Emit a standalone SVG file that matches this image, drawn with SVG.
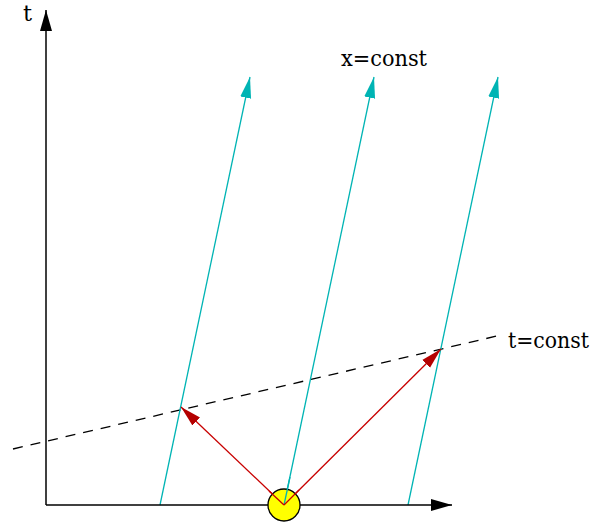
<svg xmlns="http://www.w3.org/2000/svg" width="601" height="523" viewBox="0 0 601 523">
<style>
.ax{stroke:#000;stroke-width:1.5;fill:none}
.cy{stroke:#00b4b4;stroke-width:1.3;fill:none}
.rd{stroke:#c80000;stroke-width:1.3;fill:none}
.dash{stroke:#000;stroke-width:1.3;fill:none;stroke-dasharray:10,8}
text{font-family:'DejaVu Serif',serif;font-size:23px;fill:#000}
</style>
<defs>
<marker id="ab" markerUnits="userSpaceOnUse" markerWidth="22" markerHeight="12" refX="21" refY="6" orient="auto"><path d="M0,0 L21,6 L0,12 Z" fill="#000"/></marker>
<marker id="ac" markerUnits="userSpaceOnUse" markerWidth="22" markerHeight="12" refX="21" refY="6" orient="auto"><path d="M0,0.5 L21,6 L0,11.5 Z" fill="#00b4b4"/></marker>
<marker id="ar" markerUnits="userSpaceOnUse" markerWidth="22" markerHeight="12" refX="21" refY="6" orient="auto"><path d="M0,0.5 L21,6 L0,11.5 Z" fill="#b40000"/></marker>
</defs>
<g id="connectors">
<line class="dash" x1="13" y1="449" x2="497" y2="336"/>
<line class="cy" x1="160" y1="505" x2="250" y2="77" marker-end="url(#ac)"/>
<line class="cy" x1="284" y1="505" x2="374" y2="77" marker-end="url(#ac)"/>
<line class="cy" x1="408" y1="505" x2="498" y2="77" marker-end="url(#ac)"/>
<line class="rd" x1="284" y1="505" x2="181" y2="407" marker-end="url(#ar)"/>
<line class="rd" x1="284" y1="505" x2="441" y2="349" marker-end="url(#ar)"/>
</g>
<g id="axes">
<line class="ax" x1="46" y1="505" x2="46" y2="10" marker-end="url(#ab)"/>
<line class="ax" x1="46" y1="505" x2="452" y2="505" marker-end="url(#ab)"/>
</g>
<g id="source">
<circle cx="284" cy="505" r="16" fill="#ffff00" stroke="#000" stroke-width="1.3"/>
<line class="cy" x1="284" y1="505" x2="290" y2="477"/>
<line class="rd" x1="284" y1="505" x2="269" y2="491"/>
<line class="rd" x1="284" y1="505" x2="299" y2="490"/>
</g>
<g id="labels">
<text x="23" y="21" textLength="9" lengthAdjust="spacingAndGlyphs">t</text>
<text x="341" y="66" textLength="86" lengthAdjust="spacingAndGlyphs">x=const</text>
<text x="508" y="348" font-size="22" textLength="81" lengthAdjust="spacingAndGlyphs">t=const</text>
</g>
</svg>
